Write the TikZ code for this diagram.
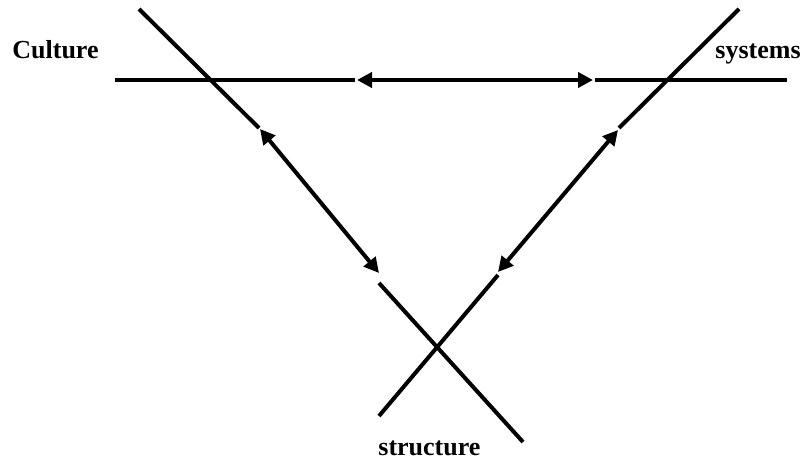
\documentclass[tikz,border=0pt]{standalone}
\usepackage{fontspec}
\setmainfont{Liberation Serif}
\usepackage{tikz}
\usetikzlibrary{arrows.meta}
\tikzset{
	barline/.style={line width=2pt}
}
\tikzset{
	twoway/.style={line width=2pt, {Triangle[length=7.5pt,width=7.5pt]}-{Triangle[length=7.5pt,width=7.5pt]}}
}
\tikzset{
	cornertext/.style={font=\fontsize{13}{15}\selectfont\bfseries, inner sep=0pt, anchor=base west}
}

\begin{document}
\begin{tikzpicture}[x=0.5pt, y=-0.5pt]
      \useasboundingbox (0,0) rectangle (802,461);
      % top bar
      \coordinate (ta) at (115,80);
      \coordinate (tb) at (355,80);
      \coordinate (tc) at (357,80);
      \coordinate (td) at (593,80);
      \coordinate (te) at (595,80);
      \coordinate (tf) at (787,80);
      % left bar
      \coordinate (la) at (139,9);
      \coordinate (lb) at (259,128);
      \coordinate (lc) at (260,129);
      \coordinate (ld) at (379,273);
      \coordinate (le) at (379,283);
      \coordinate (lf) at (523,442);
      % right bar
      \coordinate (ra) at (739,9);
      \coordinate (rb) at (619,128);
      \coordinate (rc) at (618,130);
      \coordinate (rd) at (498,272);
      \coordinate (re) at (498,275);
      \coordinate (rf) at (379,416);
      \draw[barline] (ta) -- (tb);
      \draw[twoway] (tc) -- (td);
      \draw[barline] (te) -- (tf);
      \draw[barline] (la) -- (lb);
      \draw[twoway] (lc) -- (ld);
      \draw[barline] (le) -- (lf);
      \draw[barline] (ra) -- (rb);
      \draw[twoway] (rc) -- (rd);
      \draw[barline] (re) -- (rf);
      \node[cornertext] (culture) at (12,58) {Culture};
      \node[cornertext] (systems) at (715,58) {systems};
      \node[cornertext] (structure) at (378,455) {structure};
    \end{tikzpicture}
\end{document}
